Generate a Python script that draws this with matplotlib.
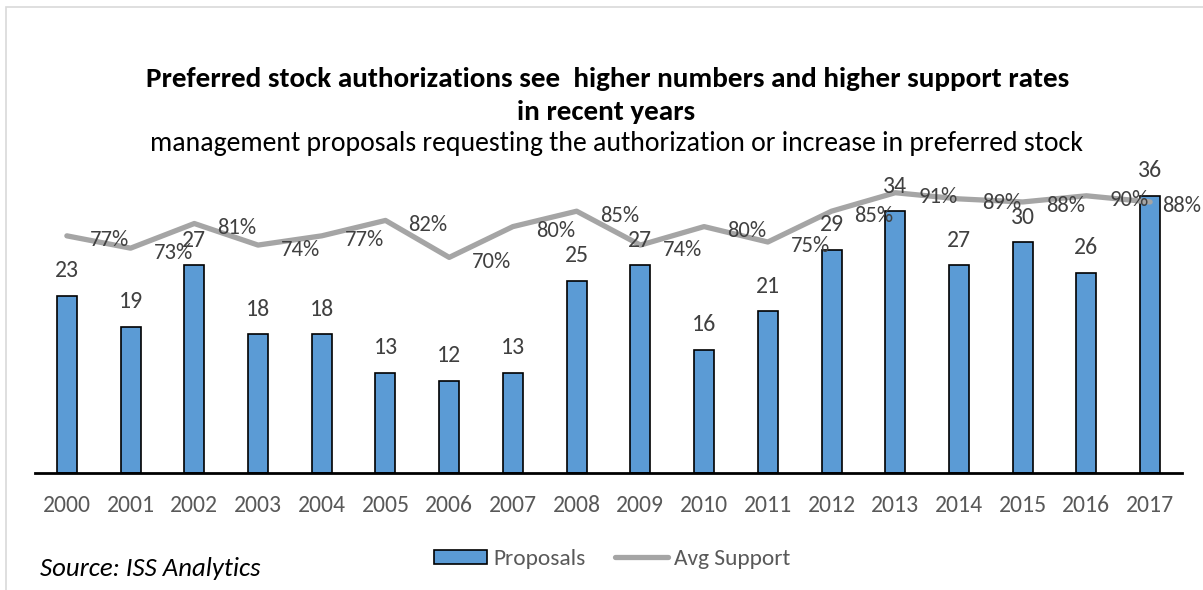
import numpy as np
import matplotlib
matplotlib.use('Agg')
import matplotlib.pyplot as plt
from matplotlib import font_manager
from matplotlib.patches import Patch, Rectangle
from matplotlib.lines import Line2D

years = ['2000', '2001', '2002', '2003', '2004', '2005', '2006', '2007', '2008',
         '2009', '2010', '2011', '2012', '2013', '2014', '2015', '2016', '2017']
proposals = [23, 19, 27, 18, 18, 13, 12, 13, 25, 27, 16, 21, 29, 34, 27, 30, 26, 36]
avg_support = [77, 73, 81, 74, 77, 82, 70, 80, 85, 74, 80, 75, 85, 91, 89, 88, 90, 88]

title_1 = 'Preferred stock authorizations see  higher numbers and higher support rates'
title_2 = 'in recent years'
subtitle = 'management proposals requesting the authorization or increase in preferred stock'
source = 'Source: ISS Analytics'

FONT = 'Lato'
SCALE = 1.08
try:
    font_manager.findfont('Carlito', fallback_to_default=False)
    FONT = 'Carlito'
    SCALE = 1.0
except Exception:
    pass
plt.rcParams['font.family'] = [FONT, 'DejaVu Sans']

W, H = 1203, 590
fig = plt.figure(figsize=(W / 100, H / 100), dpi=100)
renderer = fig.canvas.get_renderer()


def fs_for(text, target_px, **kw):
    t = fig.text(0, 0, text, fontsize=20, **kw)
    w = t.get_window_extent(renderer).width
    t.remove()
    return 20 * target_px / w * SCALE


def py(y):
    return (H - y) / H


# chart-area border (light gray), cropped at right/bottom
fig.add_artist(Rectangle((6 / W, -0.1), 1.2, py(7) + 0.1, transform=fig.transFigure,
                         fill=False, edgecolor='#D9D9D9', linewidth=1.2))

ax = fig.add_axes([35 / W, py(473), (1182 - 35) / W, (473 - 165) / H])
x = np.arange(len(years))
ax.bar(x, proposals, width=0.314, color='#5B9BD5', edgecolor='black', linewidth=1.2, zorder=2)
ax.set_xlim(-0.5, len(years) - 0.5)
ax.set_ylim(0, 40)
ax.set_yticks([])
for s in ['top', 'right', 'left']:
    ax.spines[s].set_visible(False)
ax.spines['bottom'].set_linewidth(2.0)
ax.spines['bottom'].set_color('black')
ax.spines['bottom'].set_zorder(4)

tick_fs = fs_for('2000', 48)
ax.set_xticks(x)
ax.set_xticklabels(years, fontsize=tick_fs, color='#595959')
ax.tick_params(axis='x', length=0, pad=15.5)
ax.patch.set_visible(False)

ax2 = ax.twinx()
ax2.set_ylim(0, 1.0)
ax2.set_yticks([])
for s in ax2.spines.values():
    s.set_visible(False)
sup = [v / 100 for v in avg_support]
ax2.plot(x, sup, color='#A5A5A5', linewidth=3.8, solid_joinstyle='round',
         solid_capstyle='round', zorder=3)

lab_fs = fs_for('23', 24)
pct_fs = fs_for('77%', 39)
for i, p in enumerate(proposals):
    ax2.annotate(str(p), xy=(i, p), xycoords=ax.transData,
                 xytext=(0, 18.5 * 0.72), textcoords='offset points',
                 ha='center', va='baseline', fontsize=lab_fs, color='#404040',
                 zorder=6, annotation_clip=False)
for i, s in enumerate(sup):
    dx = 23 if i < len(sup) - 1 else 12
    ax2.annotate(f'{avg_support[i]}%', xy=(i, s), xycoords='data',
                 xytext=(dx * 0.72, -10.5 * 0.72), textcoords='offset points',
                 ha='left', va='baseline', fontsize=pct_fs, color='#404040',
                 zorder=6, annotation_clip=False)

# titles
t1_fs = fs_for(title_1, 923, fontweight='bold')
fig.text(608 / W, py(79), title_1, fontsize=t1_fs, fontweight='bold',
         ha='center', va='center', color='black')
fig.text(606 / W, py(112), title_2, fontsize=t1_fs, fontweight='bold',
         ha='center', va='center', color='black')
sub_fs = fs_for(subtitle, 931)
fig.text(617 / W, py(144), subtitle, fontsize=sub_fs, ha='center', va='center',
         color='black')

src_fs = fs_for(source, 220, fontstyle='italic')
fig.text(40 / W, py(569), source, fontsize=src_fs, fontstyle='italic',
         ha='left', va='center', color='black')

leg_fs = fs_for('Proposals', 92)
handles = [Patch(facecolor='#5B9BD5', edgecolor='black', linewidth=1.2, label='Proposals'),
           Line2D([], [], color='#A5A5A5', linewidth=3.8, solid_capstyle='round',
                  label='Avg Support')]
leg_px = leg_fs / 0.72
fig.legend(handles=handles, loc='center', bbox_to_anchor=(612 / W, py(559)), ncol=2,
           frameon=False, fontsize=leg_fs, handlelength=53 / leg_px,
           handleheight=13 / leg_px, handletextpad=6 / leg_px,
           columnspacing=29 / leg_px, labelcolor='#595959', borderpad=0)

fig.savefig('out.png', dpi=100)
